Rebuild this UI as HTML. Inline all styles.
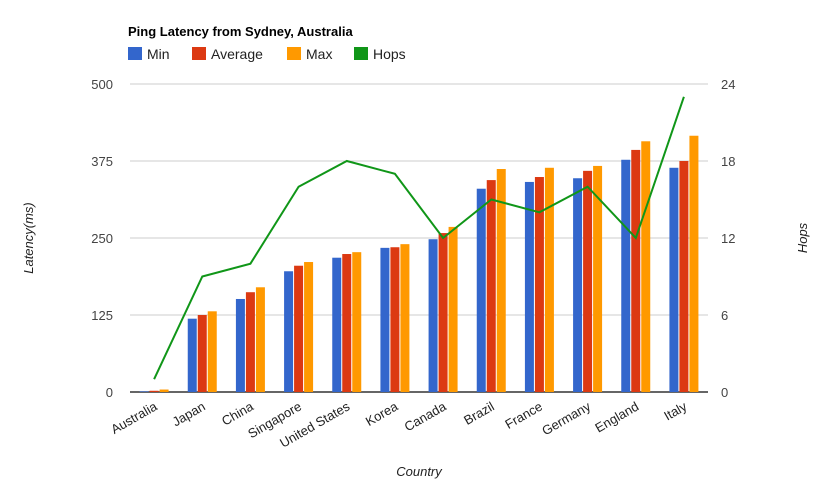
<!DOCTYPE html>
<html><head><meta charset="utf-8"><style>
body{margin:0;background:#fff;}
svg{font-family:"Liberation Sans",Arial,sans-serif;}
</style></head><body>
<svg id="chart" width="835" height="497" xmlns="http://www.w3.org/2000/svg">
<text x="128" y="36" font-size="13" font-weight="bold" fill="#000">Ping Latency from Sydney, Australia</text>
<g font-size="14" fill="#222">
<g><rect x="128" y="47" width="14" height="13" fill="#3366cc"/><text x="147" y="59">Min</text></g>
<g><rect x="192" y="47" width="14" height="13" fill="#dc3912"/><text x="211" y="59">Average</text></g>
<g><rect x="287" y="47" width="14" height="13" fill="#ff9900"/><text x="306" y="59">Max</text></g>
<g><rect x="354" y="47" width="14" height="13" fill="#109618"/><text x="373" y="59">Hops</text></g>
</g>
<g id="grid"></g><g id="bars"></g><g id="line"></g><g id="labels"></g>
<text transform="translate(33,238) rotate(-90)" text-anchor="middle" font-size="13" font-style="italic" fill="#222">Latency(ms)</text>
<text transform="translate(807,238) rotate(-90)" text-anchor="middle" font-size="13" font-style="italic" fill="#222">Hops</text>
<text x="419" y="476" text-anchor="middle" font-size="13" font-style="italic" fill="#222">Country</text>
</svg>
<script>
const categories=["Australia","Japan","China","Singapore","United States","Korea","Canada","Brazil","France","Germany","England","Italy"];
const minVals=[1,119,151,196,218,234,248,330,341,347,377,364];
const avgVals=[2,125,162,205,224,235,258,344,349,359,393,375];
const maxVals=[4,131,170,211,227,240,268,362,364,367,407,416];
const hops=[1,9,10,16,18,17,12,15,14,16,12,23];
const leftTicks=[0,125,250,375,500];
const rightTicks=[0,6,12,18,24];
const NS="http://www.w3.org/2000/svg";
const L=130,R=708,T=84,B=392;
const band=(R-L)/categories.length;
const y=v=>B-(v/500)*(B-T);
const y2=v=>B-(v/24)*(B-T);
const xc=i=>L+band*(i+0.5);
function mk(tag,attrs,parent){const e=document.createElementNS(NS,tag);for(const k in attrs)e.setAttribute(k,attrs[k]);document.getElementById(parent).appendChild(e);return e;}
leftTicks.forEach((t,i)=>{
 const g=mk('line',{x1:L,x2:R,y1:y(t),y2:y(t),stroke:i==0?'#333':'#ccc','stroke-width':i==0?1.5:1},'grid');
 
 
 const tx=mk('text',{x:L-17,y:y(t)+5,'text-anchor':'end','font-size':13,fill:'#444'},'labels');tx.textContent=t;
 
 
});
rightTicks.forEach(t=>{
 const tx=mk('text',{x:R+13,y:y2(t)+5,'font-size':13,fill:'#444'},'labels');tx.textContent=t;
 
 
});
const series=[[minVals,'#3366cc','min'],[avgVals,'#dc3912','avg'],[maxVals,'#ff9900','max']];
categories.forEach((c,i)=>{
 series.forEach((s,j)=>{
  const bx=xc(i)-14.5+j*10;
  const r=mk('rect',{x:bx,y:y(s[0][i]),width:9,height:B-y(s[0][i]),fill:s[1]},'bars');
  
  
 });
 const tx=mk('text',{transform:`translate(${xc(i)+4},${409}) rotate(-30)`,'text-anchor':'end','font-size':13,fill:'#222'},'labels');tx.textContent=c;
 
 
});
const pts=hops.map((h,i)=>xc(i).toFixed(1)+','+y2(h).toFixed(1)).join(' ');
const pl=mk('polyline',{points:pts,fill:'none',stroke:'#109618','stroke-width':2},'line');


</script>
</body></html>
